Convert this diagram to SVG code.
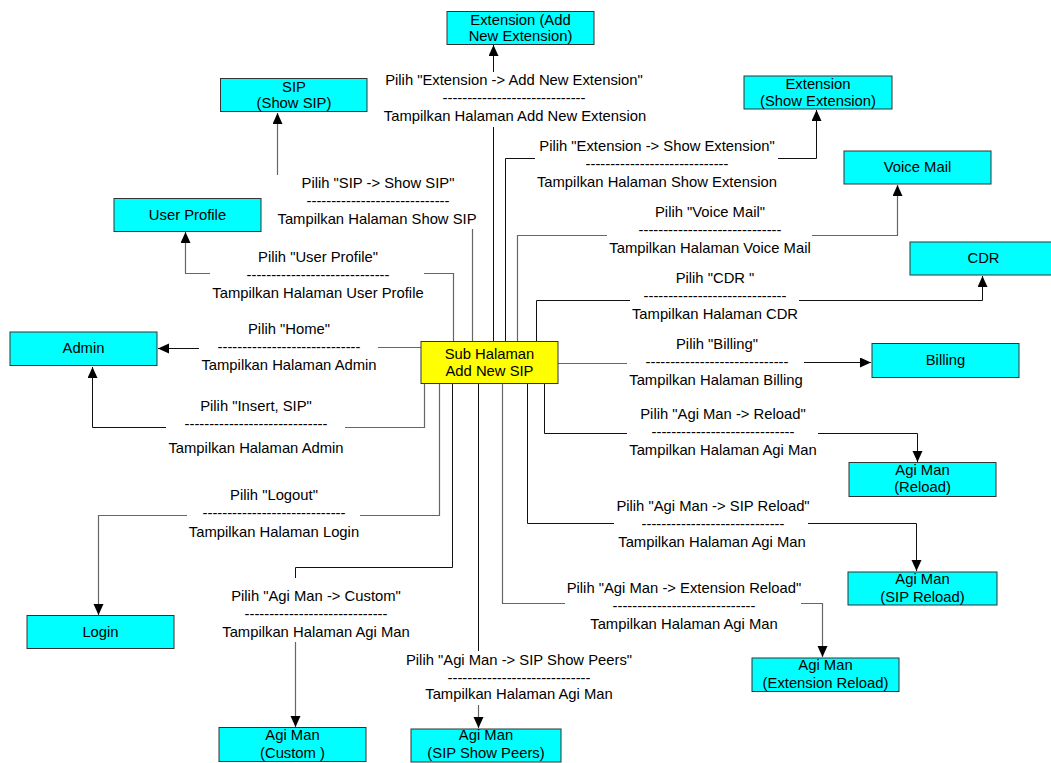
<svg xmlns="http://www.w3.org/2000/svg" width="1051" height="763" viewBox="0 0 1051 763">
<defs>
<marker id="arr" markerUnits="userSpaceOnUse" markerWidth="12" markerHeight="11" refX="11" refY="5" orient="auto">
<path d="M0,0 L11,5 L0,10 z" fill="#000"/>
</marker>
<style>
text{font-family:"Liberation Sans",Arial,sans-serif;font-size:14.8px;fill:#000;text-anchor:middle}
.n rect{fill:#00FFFF;stroke:#333;stroke-width:1}
.c rect{fill:#FFFF00;stroke:#333;stroke-width:1}
.k{fill:none;stroke:#111;stroke-width:1}
.g{fill:none;stroke:#666;stroke-width:1.2}
.a{marker-end:url(#arr)}
</style>
</defs>
<rect width="1051" height="763" fill="#fff"/>
<g id="connectors">
<path class="k" d="M493.5,341 V127"/>
<path class="k a" d="M493.5,72 V45"/>
<path class="g" d="M472.5,341 V229"/>
<path class="g a" d="M277.5,175 V113"/>
<path class="k" d="M505.5,341 V158.5 H535"/>
<path class="k a" d="M778,158.5 H816.5 V110"/>
<path class="g" d="M517.5,341 V235.5 H607"/>
<path class="g a" d="M812,235.5 H897.5 V185"/>
<path class="g" d="M453.5,341 V273.5 H424"/>
<path class="g a" d="M210,273.5 H185.5 V232"/>
<path class="k" d="M536.5,341 V300.5 H630"/>
<path class="k a" d="M799,300.5 H982.5 V276"/>
<path class="g" d="M421,347.5 H378"/>
<path class="k a" d="M199,348.5 H158"/>
<path class="g" d="M558,363.5 H627"/>
<path class="k a" d="M804,362.5 H871"/>
<path class="g" d="M424.5,384 V427.5 H345"/>
<path class="k a" d="M166,427.5 H92.5 V367"/>
<path class="k" d="M544.5,384 V433.5 H627"/>
<path class="k a" d="M818,433.5 H917.5 V462"/>
<path class="g" d="M439.5,384 V515.5 H360"/>
<path class="g a" d="M187,515.5 H98.5 V615"/>
<path class="k" d="M527.5,384 V523.5 H614"/>
<path class="k a" d="M808,523.5 H916.5 V571"/>
<path class="g" d="M502.5,384 V603.5 H565"/>
<path class="g a" d="M801,603.5 H822.5 V657"/>
<path class="k" d="M452.5,384 V567.5 H295.5 V578"/>
<path class="g a" d="M295.5,642 V727"/>
<path class="k" d="M478.5,384 V651"/>
<path class="g a" d="M478.5,705 V728"/>
</g>
<g id="labels">
<g id="lbl-ext-add"><text x="514" y="85">Pilih "Extension -&gt; Add New Extension"</text><text x="514" y="102.5">-----------------------------</text><text x="515" y="121">Tampilkan Halaman Add New Extension</text></g>
<g id="lbl-ext-show"><text x="657" y="151">Pilih "Extension -&gt; Show Extension"</text><text x="657" y="168.5">-----------------------------</text><text x="657" y="187">Tampilkan Halaman Show Extension</text></g>
<g id="lbl-sip"><text x="378" y="188">Pilih "SIP -&gt; Show SIP"</text><text x="378" y="205.5">-----------------------------</text><text x="377" y="224">Tampilkan Halaman Show SIP</text></g>
<g id="lbl-voice"><text x="710" y="217">Pilih "Voice Mail"</text><text x="710" y="234.5">-----------------------------</text><text x="710" y="253">Tampilkan Halaman Voice Mail</text></g>
<g id="lbl-user"><text x="318" y="262">Pilih "User Profile"</text><text x="318" y="279.5">-----------------------------</text><text x="318" y="298">Tampilkan Halaman User Profile</text></g>
<g id="lbl-cdr"><text x="715" y="283">Pilih "CDR "</text><text x="715" y="300.5">-----------------------------</text><text x="715" y="319">Tampilkan Halaman CDR</text></g>
<g id="lbl-home"><text x="289" y="334">Pilih "Home"</text><text x="289" y="351.5">-----------------------------</text><text x="289" y="370">Tampilkan Halaman Admin</text></g>
<g id="lbl-billing"><text x="717" y="349">Pilih "Billing"</text><text x="717" y="366.5">-----------------------------</text><text x="716" y="385">Tampilkan Halaman Billing</text></g>
<g id="lbl-insert"><text x="256" y="411">Pilih "Insert, SIP"</text><text x="256" y="428.5">-----------------------------</text><text x="256" y="453">Tampilkan Halaman Admin</text></g>
<g id="lbl-agi-reload"><text x="723" y="419">Pilih "Agi Man -&gt; Reload"</text><text x="723" y="436.5">-----------------------------</text><text x="723" y="455">Tampilkan Halaman Agi Man</text></g>
<g id="lbl-logout"><text x="274" y="500">Pilih "Logout"</text><text x="274" y="518">-----------------------------</text><text x="274" y="537">Tampilkan Halaman Login</text></g>
<g id="lbl-sip-reload"><text x="713" y="511">Pilih "Agi Man -&gt; SIP Reload"</text><text x="713" y="528.5">-----------------------------</text><text x="712" y="547">Tampilkan Halaman Agi Man</text></g>
<g id="lbl-ext-reload"><text x="684" y="593">Pilih "Agi Man -&gt; Extension Reload"</text><text x="684" y="610.5">-----------------------------</text><text x="684" y="629">Tampilkan Halaman Agi Man</text></g>
<g id="lbl-custom"><text x="316" y="601">Pilih "Agi Man -&gt; Custom"</text><text x="316" y="618.5">-----------------------------</text><text x="316" y="637">Tampilkan Halaman Agi Man</text></g>
<g id="lbl-peers"><text x="519" y="665">Pilih "Agi Man -&gt; SIP Show Peers"</text><text x="519" y="682.5">-----------------------------</text><text x="519" y="699">Tampilkan Halaman Agi Man</text></g>
</g>
<g id="n-center" class="c"><rect x="421" y="341.5" width="137" height="42"/><text x="489.5" y="358.5">Sub Halaman</text><text x="489.5" y="375.5">Add New SIP</text></g>
<g id="n-ext-add" class="n"><rect x="447" y="11.5" width="147" height="33"/><text x="520.5" y="24.5">Extension (Add</text><text x="520.5" y="41">New Extension)</text></g>
<g id="n-sip" class="n"><rect x="220.5" y="78.5" width="146.5" height="33"/><text x="294" y="91.5">SIP</text><text x="294" y="108">(Show SIP)</text></g>
<g id="n-ext-show" class="n"><rect x="744" y="76" width="148" height="33"/><text x="818" y="88.5">Extension</text><text x="818" y="105.5">(Show Extension)</text></g>
<g id="n-voice" class="n"><rect x="844" y="151" width="147" height="33"/><text x="917.5" y="172">Voice Mail</text></g>
<g id="n-user" class="n"><rect x="114" y="198.5" width="147" height="33"/><text x="187.5" y="220">User Profile</text></g>
<g id="n-cdr" class="n"><rect x="910" y="242" width="147" height="33"/><text x="983.5" y="263">CDR</text></g>
<g id="n-admin" class="n"><rect x="10" y="332" width="147" height="33.5"/><text x="83.5" y="353">Admin</text></g>
<g id="n-billing" class="n"><rect x="872" y="343.5" width="147" height="34"/><text x="945.5" y="365">Billing</text></g>
<g id="n-agi-reload" class="n"><rect x="849" y="462.5" width="147" height="34"/><text x="922.5" y="475">Agi Man</text><text x="922.5" y="491.5">(Reload)</text></g>
<g id="n-agi-sipreload" class="n"><rect x="848" y="572" width="149" height="33"/><text x="922.5" y="584">Agi Man</text><text x="922.5" y="601.5">(SIP Reload)</text></g>
<g id="n-login" class="n"><rect x="27" y="615.5" width="147" height="33"/><text x="100.5" y="636.5">Login</text></g>
<g id="n-agi-extreload" class="n"><rect x="752" y="658" width="147" height="33.5"/><text x="825.5" y="670">Agi Man</text><text x="825.5" y="687.5">(Extension Reload)</text></g>
<g id="n-agi-custom" class="n"><rect x="219" y="727.5" width="147" height="34"/><text x="292.5" y="740">Agi Man</text><text x="292.5" y="757.5">(Custom )</text></g>
<g id="n-agi-peers" class="n"><rect x="411" y="729" width="150" height="33"/><text x="486" y="740">Agi Man</text><text x="486" y="758">(SIP Show Peers)</text></g>
</svg>
